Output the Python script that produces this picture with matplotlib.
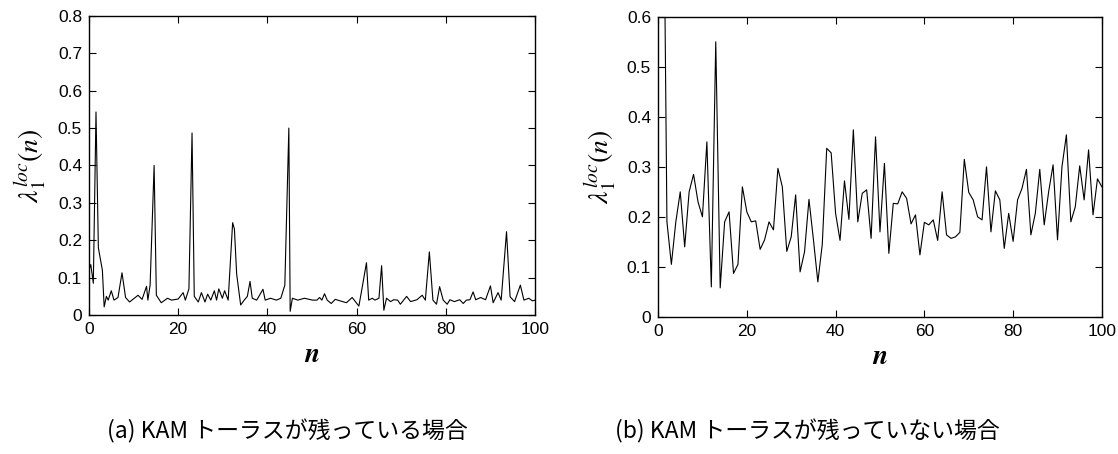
import matplotlib
matplotlib.use("Agg")
import matplotlib.pyplot as plt

plt.rcParams["mathtext.fontset"] = "stix"

# (a) KAM torus remains
n_a = [0.0, 0.4, 0.97, 1.57, 2.1, 3.0, 3.4, 3.9, 4.3, 5.0, 5.6, 6.5, 7.4, 8.2, 9.1,
       11.0, 11.9, 12.9, 13.2, 13.7, 14.6, 15.1, 16.2, 17.6, 18.5, 20.0, 21.1, 21.6,
       22.4, 23.1, 23.6, 24.5, 25.2, 26.0, 26.6, 27.3, 28.1, 28.6, 29.1, 29.9, 30.4,
       31.2, 32.2, 32.6, 33.1, 34.0, 34.8, 35.5, 36.1, 36.6, 37.6, 39.0, 39.5, 40.7,
       42.0, 43.0, 43.9, 44.8, 45.1, 45.6, 46.8, 48.3, 50.1, 51.1, 51.7, 52.2, 52.8,
       53.4, 54.3, 55.2, 56.3, 57.7, 59.0, 60.5, 61.2, 62.2, 62.7, 63.5, 64.1, 65.0,
       65.6, 66.1, 66.7, 67.6, 68.3, 69.2, 69.8, 71.2, 72.1, 73.5, 74.7, 75.4, 76.3,
       77.1, 77.9, 78.6, 79.4, 80.3, 80.9, 81.9, 83.1, 83.9, 84.6, 85.4, 86.1, 86.7,
       87.8, 88.9, 90.0, 90.6, 91.7, 92.4, 93.6, 94.4, 95.4, 96.7, 97.5, 98.6, 99.4,
       100.0]
lam_a = [0.12, 0.135, 0.085, 0.543, 0.18, 0.12, 0.022, 0.05, 0.04, 0.065, 0.04, 0.047,
         0.113, 0.047, 0.035, 0.053, 0.042, 0.077, 0.04, 0.08, 0.40, 0.053, 0.033,
         0.045, 0.04, 0.043, 0.06, 0.04, 0.07, 0.487, 0.05, 0.035, 0.06, 0.035, 0.056,
         0.04, 0.065, 0.04, 0.07, 0.045, 0.065, 0.04, 0.247, 0.23, 0.11, 0.027, 0.04,
         0.05, 0.09, 0.045, 0.04, 0.069, 0.04, 0.045, 0.04, 0.045, 0.08, 0.50, 0.01,
         0.045, 0.04, 0.045, 0.04, 0.04, 0.047, 0.04, 0.057, 0.04, 0.031, 0.042, 0.038,
         0.033, 0.047, 0.024, 0.071, 0.14, 0.04, 0.045, 0.04, 0.045, 0.132, 0.013,
         0.045, 0.036, 0.041, 0.04, 0.029, 0.05, 0.036, 0.041, 0.053, 0.04, 0.169,
         0.04, 0.029, 0.076, 0.04, 0.029, 0.041, 0.036, 0.041, 0.031, 0.04, 0.041,
         0.062, 0.041, 0.047, 0.041, 0.078, 0.033, 0.06, 0.04, 0.223, 0.049, 0.036,
         0.08, 0.04, 0.045, 0.038, 0.04]

# (b) KAM torus destroyed, n = 1..100
n_b = list(range(1, 101))
lam_b = [1.15, 0.19, 0.105, 0.19, 0.25, 0.14, 0.25, 0.285, 0.23, 0.20,
         0.35, 0.06, 0.55, 0.058, 0.19, 0.21, 0.087, 0.105, 0.26, 0.21,
         0.19, 0.192, 0.135, 0.154, 0.19, 0.174, 0.297, 0.26, 0.131, 0.16,
         0.244, 0.09, 0.13, 0.235, 0.155, 0.07, 0.145, 0.337, 0.328, 0.207,
         0.153, 0.272, 0.195, 0.374, 0.19, 0.247, 0.254, 0.157, 0.36, 0.17,
         0.307, 0.127, 0.227, 0.226, 0.25, 0.237, 0.186, 0.204, 0.124, 0.189,
         0.184, 0.194, 0.153, 0.25, 0.164, 0.157, 0.16, 0.169, 0.315, 0.249,
         0.234, 0.20, 0.194, 0.30, 0.17, 0.252, 0.234, 0.137, 0.207, 0.151,
         0.234, 0.257, 0.295, 0.164, 0.207, 0.295, 0.184, 0.25, 0.304, 0.154,
         0.30, 0.364, 0.19, 0.22, 0.302, 0.234, 0.334, 0.204, 0.276, 0.26]

x_ticks = [0, 20, 40, 60, 80, 100]
y_ticks_a = [0, 0.1, 0.2, 0.3, 0.4, 0.5, 0.6, 0.7, 0.8]
y_ticks_b = [0, 0.1, 0.2, 0.3, 0.4, 0.5, 0.6]
captions = ["(a) KAM トーラスが残っている場合", "(b) KAM トーラスが残っていない場合"]

fig = plt.figure(figsize=(11.18, 4.54), dpi=100)
ax_a = fig.add_axes([0.0796, 0.306, 0.399, 0.659])
ax_b = fig.add_axes([0.5886, 0.302, 0.397, 0.661])

tick_font = "Liberation Sans"
for ax, n, lam, yt in [(ax_a, n_a, lam_a, y_ticks_a), (ax_b, n_b, lam_b, y_ticks_b)]:
    ax.plot(n, lam, color="black", linewidth=0.8)
    ax.set_xlim(0, 100)
    ax.set_ylim(0, yt[-1])
    ax.set_xticks(x_ticks)
    ax.set_xticklabels([str(t) for t in x_ticks], fontfamily=tick_font, fontsize=12.5)
    ax.set_yticks(yt)
    ax.set_yticklabels(["0" if t == 0 else f"{t:.1f}" for t in yt],
                       fontfamily=tick_font, fontsize=12.5)
    ax.tick_params(direction="in", top=True, right=True, length=5, width=0.8, pad=5)
    for sp in ax.spines.values():
        sp.set_linewidth(1.0)
    ax.set_xlabel(r"$\boldsymbol{n}$", fontsize=20, labelpad=2)
    ax.set_ylabel(r"$\lambda_{\mathrm{1}}^{loc}(n)$", fontsize=20, labelpad=6)

fig.text(0.257, 0.05, captions[0], ha="center", va="center", fontsize=16.5,
         family=["Noto Sans CJK JP", "DejaVu Sans"])
fig.text(0.722, 0.05, captions[1], ha="center", va="center", fontsize=16.5,
         family=["Noto Sans CJK JP", "DejaVu Sans"])

fig.savefig("out.png", dpi=100)
